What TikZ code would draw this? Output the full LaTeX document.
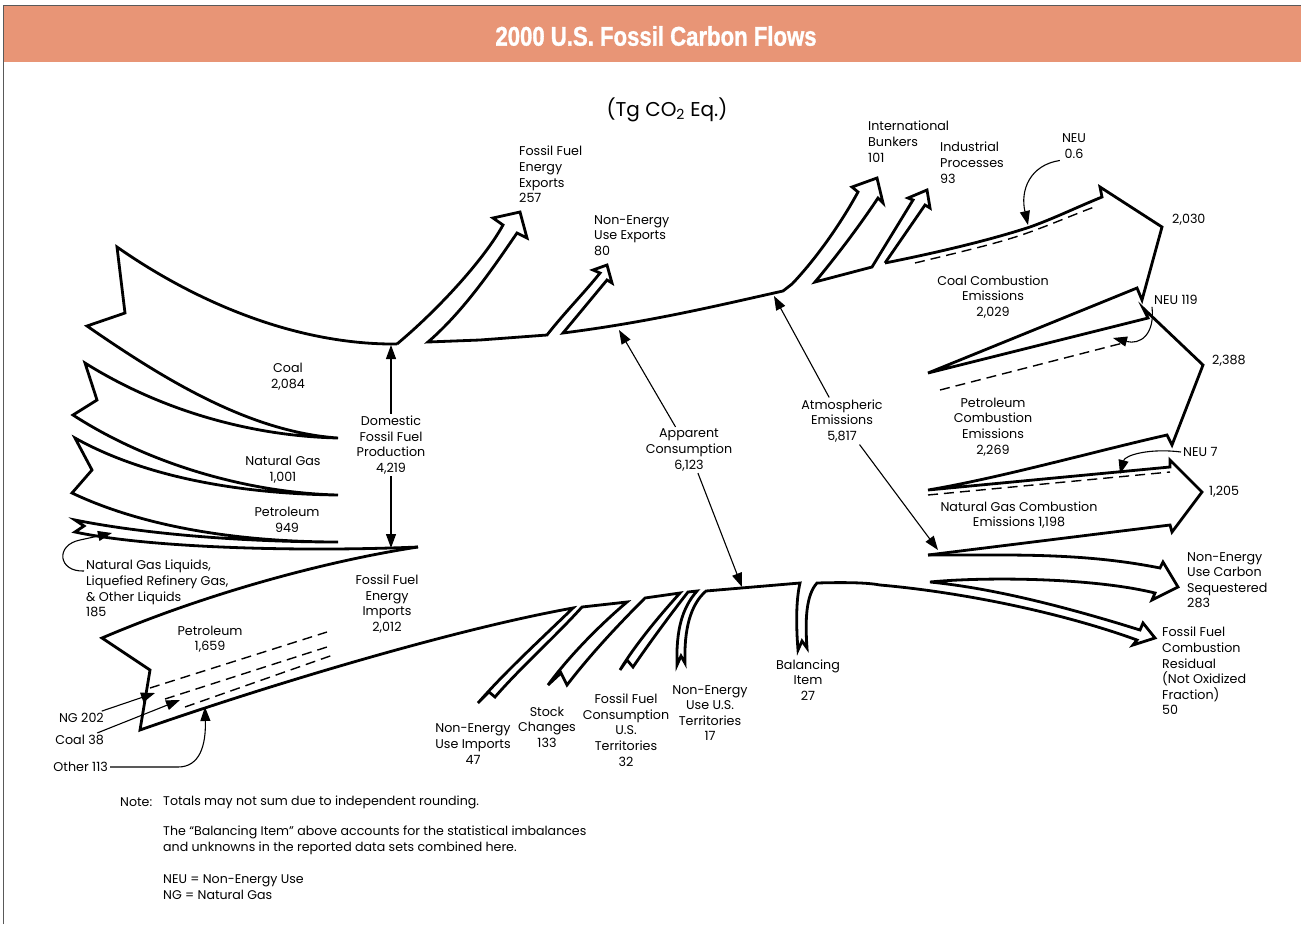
\documentclass[tikz,border=0pt]{standalone}
\usepackage{fontspec}
\setmainfont{Poppins}
\newfontfamily\titlefont[FakeStretch=0.82,FakeBold=1.2]{Liberation Sans}
\usetikzlibrary{arrows.meta,positioning}
\definecolor{bannerorange}{RGB}{232,149,118}
\newcommand\lblfont{\fontsize{12.7}{15.6}\selectfont}
\newcommand\notefont{\fontsize{12.6}{16}\selectfont}

\begin{document}
\begin{tikzpicture}[x=1pt,y=-1pt,
    flow/.style={line width=2.8pt,line join=miter},
    guide/.style={line width=1.1pt,-{Triangle[length=14pt,width=10pt]}},
    neuline/.style={line width=1.4pt,dash pattern=on 10pt off 6pt},
    lbl/.style={font=\lblfont,align=center,inner sep=2pt},
    lblw/.style={lbl,align=left,anchor=north west,inner sep=0pt}]

  \useasboundingbox (0,0) rectangle (1301,924);
  % banner
  \fill[bannerorange] (4,6) rectangle (1301,62);
  \draw[black!65,line width=1pt] (3.5,924) -- (3.5,5.5) -- (1301,5.5);
  \node[font=\titlefont\bfseries\fontsize{27}{30}\selectfont,text=white] (title) at (656,36) {2000 U.S. Fossil Carbon Flows};
  \node[font=\fontsize{20}{22}\selectfont] (units) at (667,110) {(Tg CO\textsubscript{2} Eq.)};

  % domestic inputs
  \draw[flow] (397,344) .. controls (300,345) and (200,305) .. (117,247) -- (125,313) -- (87,326)
    .. controls (165,380) and (250,432) .. (338,438)
    .. controls (250,436) and (160,410) .. (85,363) -- (97,400) -- (73,415)
    .. controls (150,465) and (250,493) .. (338,495)
    .. controls (250,494) and (150,480) .. (75,438) -- (92,470) -- (72,493)
    .. controls (150,530) and (250,542) .. (338,542)
    .. controls (250,542) and (150,535) .. (75,520) -- (84,526) -- (75,532)
    .. controls (150,548) and (300,552) .. (418,547);

  % imports and bottom of the trunk
  \draw[flow] (418,547) .. controls (320,562) and (200,596) .. (102,638) -- (150,670) -- (140,730)
    .. controls (260,688) and (450,630) .. (573,608)
    .. controls (540,640) and (505,672) .. (478,703) -- (489,692) -- (495,697)
    .. controls (520,668) and (555,637) .. (582,607)
    -- (627,602) .. controls (600,625) and (570,655) .. (548,685) -- (561,673) -- (567,685)
    .. controls (590,655) and (618,625) .. (645,598)
    -- (680,593) .. controls (660,615) and (635,645) .. (620,670) -- (627,660) -- (633,667)
    .. controls (648,645) and (670,615) .. (688,592)
    -- (697,591) .. controls (682,608) and (676,630) .. (677,665) -- (681,656) -- (685,663)
    .. controls (684,630) and (690,605) .. (706,591)
    -- (800,583) .. controls (796,600) and (796,625) .. (798,650) -- (802,641) -- (807,648)
    .. controls (805,620) and (806,595) .. (817,583)
    .. controls (850,582) and (870,583) .. (880,585)
    .. controls (960,592) and (1060,612) .. (1137,640) -- (1133,645) -- (1155,638) -- (1143,623) -- (1140,630)
    .. controls (1060,605) and (990,588) .. (930,582)
    .. controls (980,577) and (1090,577) .. (1155,593) -- (1152,600) -- (1178,587) -- (1163,562) -- (1160,568)
    .. controls (1110,558) and (1060,555) .. (1000,555) -- (928,555);

  % combustion emissions
  \draw[flow] (928,555) -- (1170,525) -- (1172,532) -- (1202,492) -- (1170,460) -- (1170,467) -- (928,490)
    .. controls (1000,478) and (1100,450) .. (1167,435) -- (1172,445) -- (1203,365) -- (1143,308) -- (1148,318)
    -- (928,373) -- (1137,288) -- (1142,300) -- (1162,227) -- (1100,187) -- (1102,197)
    .. controls (1075,208) and (1055,218) .. (1030,227) .. controls (990,240) and (940,252) .. (885,263);

  % exports, bunkers and top of the trunk
  \draw[flow] (397,344) .. controls (440,308) and (485,258) .. (503,225) -- (493,218) -- (520,212) -- (527,238) -- (517,233)
    .. controls (495,265) and (465,310) .. (428,342)
    -- (480,340) -- (547,335) .. controls (565,312) and (585,292) .. (600,273) -- (593,270) -- (607,265) -- (612,283) -- (607,280)
    .. controls (592,298) and (578,315) .. (563,333)
    .. controls (650,322) and (720,305) .. (783,291) -- (792,284)
    .. controls (815,260) and (840,225) .. (858,192) -- (852,187) -- (877,178) -- (883,203) -- (878,198)
    .. controls (858,228) and (835,258) .. (815,282)
    -- (872,267) -- (913,200) -- (908,198) -- (927,190) -- (930,208) -- (925,205) -- (885,263);

  % non-energy use lines
  \draw[neuline] (915,263) .. controls (960,252) and (1000,243) .. (1030,232) .. controls (1055,223) and (1075,214) .. (1097,206);
  \draw[neuline] (940,390) -- (1123,343);
  \draw[neuline] (928,495) -- (1170,472);
  \draw[neuline] (150,688) -- (327,632);
  \draw[neuline] (165,699) -- (327,647);
  \draw[neuline] (185,707) -- (333,655);

  % labels
  \node[lblw] (ffexp) at (519,146) {Fossil Fuel\\Energy\\Exports\\257};
  \node[lblw] (neuexp) at (594,215) {Non-Energy\\Use Exports\\80};
  \node[lblw] (bunk) at (868,121) {International\\Bunkers\\101};
  \node[lblw] (indp) at (940,142) {Industrial\\Processes\\93};
  \node[lbl] (neu06) at (1074,146) {NEU\\0.6};
  \node[lbl,anchor=west] (v2030) at (1170,220) {2,030};
  \node[lbl] (coalcomb) at (993,297) {Coal Combustion\\Emissions\\2,029};
  \node[lbl,anchor=west] (neu119) at (1152,300) {NEU 119};
  \node[lbl,anchor=west] (v2388) at (1210,361) {2,388};
  \node[lbl] (petcomb) at (993,427) {Petroleum\\Combustion\\Emissions\\2,269};
  \node[lbl,anchor=west] (neu7) at (1181,452) {NEU 7};
  \node[lbl,anchor=west] (v1205) at (1207,492) {1,205};
  \node[lbl] (ngcomb) at (1019,515) {Natural Gas Combustion\\Emissions 1,198};
  \node[lblw] (seq) at (1187,552) {Non-Energy\\Use Carbon\\Sequestered\\283};
  \node[lblw] (resid) at (1162,627) {Fossil Fuel\\Combustion\\Residual\\(Not Oxidized\\Fraction)\\50};
  \node[lbl] (coal) at (288,377) {Coal\\2,084};
  \node[lbl] (natgas) at (283,470) {Natural Gas\\1,001};
  \node[lbl] (petrol) at (287,520) {Petroleum\\949};
  \node[lbl] (dom) at (391,445) {Domestic\\Fossil Fuel\\Production\\4,219};
  \node[lblw] (ngl) at (86,560) {Natural Gas Liquids,\\Liquefied Refinery Gas,\\\& Other Liquids\\185};
  \node[lbl] (imp) at (387,604) {Fossil Fuel\\Energy\\Imports\\2,012};
  \node[lbl] (petimp) at (210,639) {Petroleum\\1,659};
  \node[lbl,anchor=east] (ng202) at (106,718) {NG 202};
  \node[lbl,anchor=east] (coal38) at (106,740) {Coal 38};
  \node[lbl,anchor=east] (other113) at (110,767) {Other 113};
  \node[lbl] (app) at (689,450) {Apparent\\Consumption\\6,123};
  \node[lbl] (atm) at (842,421) {Atmospheric\\Emissions\\5,817};
  \node[lbl] (neuimp) at (473,744) {Non-Energy\\Use Imports\\47};
  \node[lbl] (stock) at (547,727) {Stock\\Changes\\133};
  \node[lbl] (ffct) at (626,730) {Fossil Fuel\\Consumption\\U.S.\\Territories\\32};
  \node[lbl] (neuter) at (710,713) {Non-Energy\\Use U.S.\\Territories\\17};
  \node[lbl] (bal) at (808,680) {Balancing\\Item\\27};

  % pointers
  \coordinate (domtop) at (391,345);
  \coordinate (dombot) at (391,548);
  \coordinate (apptop) at (619,330);
  \coordinate (appbot) at (742,587);
  \coordinate (atmtop) at (774,296);
  \coordinate (atmbot) at (938,550);
  \coordinate (ngtip) at (155,693);
  \coordinate (coaltip) at (180,700);
  \coordinate (othertip) at (205,707);
  \coordinate (ngltip) at (112,533);
  \coordinate (neu06tip) at (1028,225);
  \coordinate (neu119tip) at (1113,338);
  \coordinate (neu7tip) at (1120,474);
  \draw[guide] (dom) -- (domtop);
  \draw[guide] (dom) -- (dombot);
  \draw[guide] (app) -- (apptop);
  \draw[guide] (app) -- (appbot);
  \draw[guide] (atm) -- (atmtop);
  \draw[guide] (atm) -- (atmbot);
  \draw[guide] (ng202) -- (ngtip);
  \draw[guide] (coal38) -- (coaltip);
  \draw[guide] (other113) -- (178,767) .. controls (200,767) and (206,745) .. (othertip);
  \draw[guide] (84,571) .. controls (58,572) and (55,545) .. (80,540) -- (ngltip);
  \draw[guide] (neu06.south west) .. controls (1030,165) and (1020,190) .. (neu06tip);
  \draw[guide] (neu119.south west) .. controls (1155,335) and (1140,345) .. (neu119tip);
  \draw[guide] (neu7.west) .. controls (1150,448) and (1125,455) .. (neu7tip);

  % notes
  \node[font=\notefont,anchor=west,inner sep=0pt] (notehead) at (120,802) {Note:};
  \node[font=\notefont,anchor=west,inner sep=0pt] (note1) at (163,802) {Totals may not sum due to independent rounding.};
  \node[font=\notefont,anchor=north west,align=left,inner sep=0pt] (note2) at (163,826) {The “Balancing Item” above accounts for the statistical imbalances\\and unknowns in the reported data sets combined here.};
  \node[font=\notefont,anchor=north west,align=left,inner sep=0pt] (note3) at (163,874) {NEU = Non-Energy Use\\NG = Natural Gas};
\end{tikzpicture}
\end{document}
